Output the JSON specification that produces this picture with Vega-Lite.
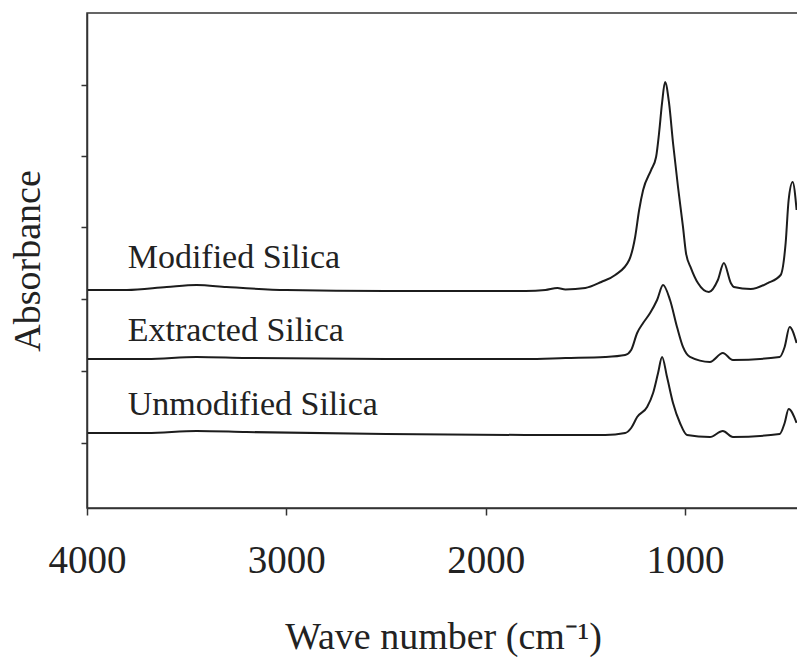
{
  "$schema": "https://vega.github.io/schema/vega-lite/v6.json",
  "width": 712,
  "height": 495,
  "autosize": {"type": "none"},
  "padding": {"left": 87, "top": 13, "right": 0, "bottom": 149},
  "background": "white",
  "config": {
    "view": {"stroke": "#333333", "strokeWidth": 1.5},
    "font": "Liberation Serif"
  },
  "datasets": {
    "spectra": [
      {"sample": "Modified Silica", "wavenumber": 3996, "absorbance": 44.04},
      {"sample": "Modified Silica", "wavenumber": 3800, "absorbance": 44.04},
      {"sample": "Modified Silica", "wavenumber": 3600, "absorbance": 44.65},
      {"sample": "Modified Silica", "wavenumber": 3450, "absorbance": 45.05},
      {"sample": "Modified Silica", "wavenumber": 3300, "absorbance": 44.65},
      {"sample": "Modified Silica", "wavenumber": 3000, "absorbance": 44.04},
      {"sample": "Modified Silica", "wavenumber": 2500, "absorbance": 43.84},
      {"sample": "Modified Silica", "wavenumber": 2000, "absorbance": 43.84},
      {"sample": "Modified Silica", "wavenumber": 1800, "absorbance": 43.84},
      {"sample": "Modified Silica", "wavenumber": 1700, "absorbance": 44.04},
      {"sample": "Modified Silica", "wavenumber": 1640, "absorbance": 44.44},
      {"sample": "Modified Silica", "wavenumber": 1600, "absorbance": 44.14},
      {"sample": "Modified Silica", "wavenumber": 1500, "absorbance": 44.44},
      {"sample": "Modified Silica", "wavenumber": 1420, "absorbance": 45.66},
      {"sample": "Modified Silica", "wavenumber": 1350, "absorbance": 47.07},
      {"sample": "Modified Silica", "wavenumber": 1280, "absorbance": 50.10},
      {"sample": "Modified Silica", "wavenumber": 1250, "absorbance": 54.75},
      {"sample": "Modified Silica", "wavenumber": 1230, "absorbance": 60.20},
      {"sample": "Modified Silica", "wavenumber": 1210, "absorbance": 64.24},
      {"sample": "Modified Silica", "wavenumber": 1170, "absorbance": 68.28},
      {"sample": "Modified Silica", "wavenumber": 1145, "absorbance": 70.91},
      {"sample": "Modified Silica", "wavenumber": 1130, "absorbance": 75.76},
      {"sample": "Modified Silica", "wavenumber": 1115, "absorbance": 81.82},
      {"sample": "Modified Silica", "wavenumber": 1100, "absorbance": 86.06},
      {"sample": "Modified Silica", "wavenumber": 1080, "absorbance": 81.82},
      {"sample": "Modified Silica", "wavenumber": 1060, "absorbance": 73.74},
      {"sample": "Modified Silica", "wavenumber": 1035, "absorbance": 64.85},
      {"sample": "Modified Silica", "wavenumber": 1010, "absorbance": 56.77},
      {"sample": "Modified Silica", "wavenumber": 995, "absorbance": 51.52},
      {"sample": "Modified Silica", "wavenumber": 970, "absorbance": 48.48},
      {"sample": "Modified Silica", "wavenumber": 935, "absorbance": 45.45},
      {"sample": "Modified Silica", "wavenumber": 880, "absorbance": 43.64},
      {"sample": "Modified Silica", "wavenumber": 835, "absorbance": 46.06},
      {"sample": "Modified Silica", "wavenumber": 805, "absorbance": 49.49},
      {"sample": "Modified Silica", "wavenumber": 770, "absorbance": 45.45},
      {"sample": "Modified Silica", "wavenumber": 755, "absorbance": 44.65},
      {"sample": "Modified Silica", "wavenumber": 670, "absorbance": 44.24},
      {"sample": "Modified Silica", "wavenumber": 585, "absorbance": 45.45},
      {"sample": "Modified Silica", "wavenumber": 520, "absorbance": 47.07},
      {"sample": "Modified Silica", "wavenumber": 495, "absorbance": 53.54},
      {"sample": "Modified Silica", "wavenumber": 480, "absorbance": 62.22},
      {"sample": "Modified Silica", "wavenumber": 460, "absorbance": 65.86},
      {"sample": "Modified Silica", "wavenumber": 440, "absorbance": 60.20},

      {"sample": "Extracted Silica", "wavenumber": 3996, "absorbance": 30.10},
      {"sample": "Extracted Silica", "wavenumber": 3700, "absorbance": 30.10},
      {"sample": "Extracted Silica", "wavenumber": 3450, "absorbance": 30.51},
      {"sample": "Extracted Silica", "wavenumber": 3200, "absorbance": 30.30},
      {"sample": "Extracted Silica", "wavenumber": 2500, "absorbance": 30.10},
      {"sample": "Extracted Silica", "wavenumber": 1800, "absorbance": 30.10},
      {"sample": "Extracted Silica", "wavenumber": 1600, "absorbance": 30.30},
      {"sample": "Extracted Silica", "wavenumber": 1400, "absorbance": 30.51},
      {"sample": "Extracted Silica", "wavenumber": 1300, "absorbance": 30.91},
      {"sample": "Extracted Silica", "wavenumber": 1270, "absorbance": 31.92},
      {"sample": "Extracted Silica", "wavenumber": 1240, "absorbance": 35.35},
      {"sample": "Extracted Silica", "wavenumber": 1210, "absorbance": 37.37},
      {"sample": "Extracted Silica", "wavenumber": 1175, "absorbance": 39.39},
      {"sample": "Extracted Silica", "wavenumber": 1140, "absorbance": 42.02},
      {"sample": "Extracted Silica", "wavenumber": 1110, "absorbance": 45.05},
      {"sample": "Extracted Silica", "wavenumber": 1075, "absorbance": 42.02},
      {"sample": "Extracted Silica", "wavenumber": 1040, "absorbance": 36.57},
      {"sample": "Extracted Silica", "wavenumber": 1010, "absorbance": 32.53},
      {"sample": "Extracted Silica", "wavenumber": 975, "absorbance": 30.51},
      {"sample": "Extracted Silica", "wavenumber": 875, "absorbance": 29.49},
      {"sample": "Extracted Silica", "wavenumber": 810, "absorbance": 31.31},
      {"sample": "Extracted Silica", "wavenumber": 760, "absorbance": 29.90},
      {"sample": "Extracted Silica", "wavenumber": 525, "absorbance": 30.51},
      {"sample": "Extracted Silica", "wavenumber": 500, "absorbance": 32.53},
      {"sample": "Extracted Silica", "wavenumber": 475, "absorbance": 36.57},
      {"sample": "Extracted Silica", "wavenumber": 440, "absorbance": 33.33},

      {"sample": "Unmodified Silica", "wavenumber": 3996, "absorbance": 15.15},
      {"sample": "Unmodified Silica", "wavenumber": 3700, "absorbance": 15.15},
      {"sample": "Unmodified Silica", "wavenumber": 3450, "absorbance": 15.56},
      {"sample": "Unmodified Silica", "wavenumber": 3200, "absorbance": 15.35},
      {"sample": "Unmodified Silica", "wavenumber": 2500, "absorbance": 14.95},
      {"sample": "Unmodified Silica", "wavenumber": 1800, "absorbance": 14.75},
      {"sample": "Unmodified Silica", "wavenumber": 1400, "absorbance": 14.75},
      {"sample": "Unmodified Silica", "wavenumber": 1300, "absorbance": 15.15},
      {"sample": "Unmodified Silica", "wavenumber": 1270, "absorbance": 16.16},
      {"sample": "Unmodified Silica", "wavenumber": 1240, "absorbance": 18.38},
      {"sample": "Unmodified Silica", "wavenumber": 1190, "absorbance": 20.40},
      {"sample": "Unmodified Silica", "wavenumber": 1160, "absorbance": 23.23},
      {"sample": "Unmodified Silica", "wavenumber": 1135, "absorbance": 27.27},
      {"sample": "Unmodified Silica", "wavenumber": 1115, "absorbance": 30.51},
      {"sample": "Unmodified Silica", "wavenumber": 1090, "absorbance": 26.46},
      {"sample": "Unmodified Silica", "wavenumber": 1060, "absorbance": 21.21},
      {"sample": "Unmodified Silica", "wavenumber": 1025, "absorbance": 17.17},
      {"sample": "Unmodified Silica", "wavenumber": 990, "absorbance": 14.75},
      {"sample": "Unmodified Silica", "wavenumber": 875, "absorbance": 14.34},
      {"sample": "Unmodified Silica", "wavenumber": 810, "absorbance": 15.56},
      {"sample": "Unmodified Silica", "wavenumber": 760, "absorbance": 14.34},
      {"sample": "Unmodified Silica", "wavenumber": 525, "absorbance": 14.95},
      {"sample": "Unmodified Silica", "wavenumber": 500, "absorbance": 17.17},
      {"sample": "Unmodified Silica", "wavenumber": 480, "absorbance": 20.00},
      {"sample": "Unmodified Silica", "wavenumber": 440, "absorbance": 17.17}
    ],
    "labels": [
      {"sample": "Modified Silica", "wavenumber": 3796, "absorbance": 48.48},
      {"sample": "Extracted Silica", "wavenumber": 3796, "absorbance": 33.74},
      {"sample": "Unmodified Silica", "wavenumber": 3796, "absorbance": 18.79}
    ]
  },
  "layer": [
    {
      "data": {"name": "spectra"},
      "mark": {"type": "line", "color": "#1c1c1c", "strokeWidth": 2, "interpolate": "monotone", "clip": true},
      "encoding": {
        "x": {
          "field": "wavenumber",
          "type": "quantitative",
          "scale": {"domain": [428, 4000], "reverse": true, "nice": false, "zero": false},
          "axis": {
            "values": [4000, 3000, 2000, 1000],
            "format": "d",
            "grid": false,
            "tickSize": 7,
            "tickWidth": 1.5,
            "tickColor": "#333333",
            "domainColor": "#333333",
            "domainWidth": 1.5,
            "labelFont": "Liberation Serif",
            "labelFontSize": 39,
            "labelColor": "#222222",
            "labelPadding": 26,
            "labelFlush": false,
            "labelOverlap": false,
            "title": "Wave number (cm⁻¹)",
            "titleFont": "Liberation Serif",
            "titleFontSize": 38,
            "titleFontWeight": "normal",
            "titleColor": "#222222",
            "titlePadding": 38
          }
        },
        "y": {
          "field": "absorbance",
          "type": "quantitative",
          "scale": {"domain": [0, 100], "nice": false, "zero": false},
          "axis": {
            "values": [13.2, 27.7, 42.2, 56.8, 71.2, 85.5],
            "labels": false,
            "grid": false,
            "tickSize": 6,
            "tickWidth": 1.5,
            "tickColor": "#333333",
            "domainColor": "#333333",
            "domainWidth": 1.5,
            "title": "Absorbance",
            "titleFont": "Liberation Serif",
            "titleFontSize": 38,
            "titleFontWeight": "normal",
            "titleColor": "#222222",
            "titlePadding": 33
          }
        },
        "detail": {"field": "sample"}
      }
    },
    {
      "data": {"name": "labels"},
      "mark": {"type": "text", "align": "left", "baseline": "alphabetic", "fontSize": 34, "font": "Liberation Serif", "color": "#222222"},
      "encoding": {
        "x": {"field": "wavenumber", "type": "quantitative"},
        "y": {"field": "absorbance", "type": "quantitative"},
        "text": {"field": "sample"}
      }
    }
  ]
}
